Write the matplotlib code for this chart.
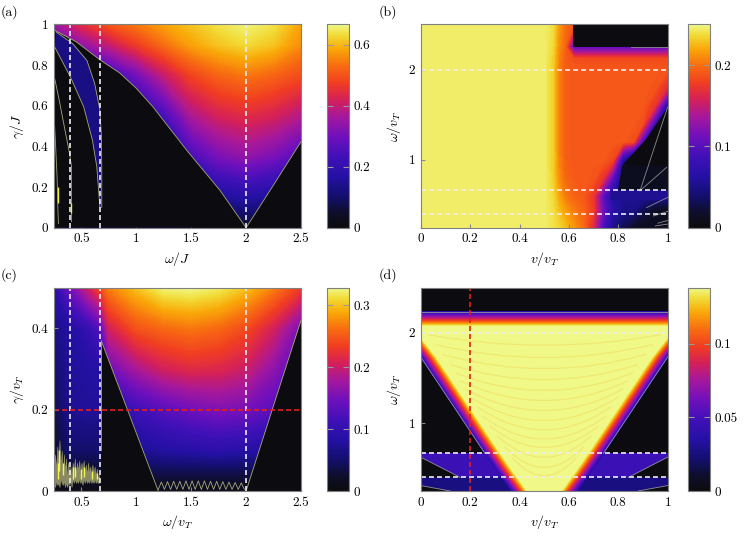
import numpy as np
import matplotlib.pyplot as plt
from matplotlib.colors import LinearSegmentedColormap, Normalize
from matplotlib.cm import ScalarMappable
from matplotlib.path import Path
from matplotlib.patches import PathPatch

plt.rcParams['font.family'] = 'cmr10'
plt.rcParams['mathtext.fontset'] = 'cm'
plt.rcParams['axes.formatter.use_mathtext'] = True
plt.rcParams['font.size'] = 9.5

# ---------------- colour map ----------------
cm_stops = [0.0, 0.07, 0.15, 0.25, 0.35, 0.45, 0.55, 0.63, 0.71, 0.80, 0.88, 0.95, 1.0]
cm_colors = ['#0c0c10', '#0e0e28', '#130f6a', '#2410a4', '#4010b8', '#7010bc',
             '#a8189a', '#d42058', '#f03c22', '#f86e10', '#f9a808', '#f2dc38', '#f0f888']
cmap = LinearSegmentedColormap.from_list('pg', list(zip(cm_stops, cm_colors)))

# ---------------- panel (a): gamma/J vs omega/J ----------------
a_vmax = 0.667
a_gx = [0.25, 0.5, 0.75, 1.0, 1.25, 1.5, 1.75, 2.0, 2.25, 2.5]
a_gy = [0.0, 0.15, 0.35, 0.55, 0.75, 0.9, 1.0]
a_gz = [
    [.12, .12, .12, .12, .12, .10, .05, .04, .05, .06],
    [.15, .15, .15, .15, .15, .15, .15, .17, .15, .12],
    [.15, .15, .15, .15, .17, .24, .31, .34, .31, .25],
    [.15, .15, .15, .16, .24, .37, .42, .44, .42, .38],
    [.20, .20, .22, .30, .40, .48, .52, .54, .52, .49],
    [.30, .34, .40, .47, .53, .58, .61, .63, .61, .56],
    [.35, .44, .50, .54, .58, .61, .64, .66, .64, .58],
]
a_edge_x = [0.25, 0.45, 0.67, 0.85, 1.0, 1.15, 1.46, 1.76, 2.0, 2.25, 2.5]
a_edge_y = [0.972, 0.915, 0.825, 0.76, 0.685, 0.595, 0.38, 0.185, 0.0, 0.21, 0.423]
a_band_x = [0.27, 0.42, 0.55, 0.62, 0.668, 0.682, 0.685, 0.685,
            0.668, 0.64, 0.60, 0.52, 0.40, 0.26]
a_band_y = [0.962, 0.905, 0.822, 0.71, 0.58, 0.45, 0.30, 0.10,
            0.10, 0.30, 0.43, 0.595, 0.74, 0.885]
a_band_val = 0.13
a_line1_x = [0.25, 0.30, 0.35, 0.39, 0.41, 0.41]
a_line1_y = [0.75, 0.62, 0.48, 0.37, 0.30, 0.03]
a_line2_x = [0.25, 0.265, 0.278, 0.285, 0.29]
a_line2_y = [0.56, 0.40, 0.25, 0.10, 0.02]
a_spark_x = [0.284, 0.405]
a_spark_y0 = [0.12, 0.07]
a_spark_y1 = [0.20, 0.12]
a_dash_x = [0.4, 2 / 3, 2.0]

# ---------------- panel (b): omega/v_T vs v/v_T ----------------
b_vmax = 0.25
b_gx = [0.0, 0.5, 0.535, 0.56, 0.585, 0.62, 0.66, 0.70, 0.74, 0.78, 0.82, 0.86, 0.90, 0.95, 1.0]
b_gy = [0.25, 0.45, 0.6, 0.8, 1.0, 1.2, 1.4, 1.6, 1.8, 2.0, 2.12, 2.25, 2.5]
b_gz = [
    [.245, .245, .240, .235, .227, .213, .198, .162, .090, .050, .030, .015, .012, .012, .012],
    [.245, .245, .238, .226, .215, .203, .194, .176, .110, .065, .050, .050, .030, .015, .012],
    [.245, .245, .236, .218, .203, .195, .190, .172, .100, .060, .055, .055, .055, .055, .055],
    [.245, .245, .233, .210, .196, .191, .190, .188, .170, .100, .040, .012, .012, .012, .012],
    [.245, .245, .232, .206, .193, .190, .190, .190, .190, .180, .060, .000, .000, .000, .000],
    [.245, .245, .232, .205, .192, .190, .190, .190, .190, .190, .190, .185, .090, .000, .000],
    [.245, .245, .232, .205, .192, .190, .190, .190, .190, .190, .190, .190, .185, .080, .000],
    [.245, .245, .232, .205, .192, .190, .190, .190, .190, .190, .190, .190, .190, .170, .060],
    [.245, .245, .232, .205, .192, .190, .190, .190, .190, .190, .190, .190, .190, .188, .165],
    [.245, .245, .232, .205, .192, .190, .190, .190, .190, .190, .190, .190, .190, .190, .188],
    [.245, .245, .233, .206, .192, .184, .183, .183, .183, .183, .183, .183, .183, .183, .183],
    [.245, .245, .236, .210, .195, .100, .100, .100, .100, .100, .100, .100, .100, .100, .100],
    [.245, .245, .238, .214, .198, .188, .000, .000, .000, .000, .000, .000, .000, .000, .000],
]
b_black1 = [(0.615, 2.25), (0.615, 2.5), (1.0, 2.5), (1.0, 2.25)]
b_black2 = [(1.0, 1.585), (0.91, 1.22), (0.815, 0.936), (1.0, 0.936)]
b_navy = [(0.815, 0.936), (1.0, 0.936), (1.0, 0.667), (0.80, 0.667)]
b_navy_val = 0.012
b_blue = [(0.77, 0.667), (1.0, 0.667), (1.0, 0.555), (0.765, 0.555)]
b_blue_val = 0.055
b_lines = [
    [(1.0, 1.585), (0.888, 0.659)],
    [(0.888, 0.659), (0.996, 0.918)],
    [(0.915, 0.473), (1.0, 0.585)],
    [(0.942, 0.38), (1.0, 0.43)],
    [(0.96, 0.30), (1.0, 0.33)],
    [(0.95, 0.27), (1.0, 0.29)],
    [(0.85, 2.25), (1.0, 2.25)],
]
b_dash_y = [0.4, 2 / 3, 2.0]

# ---------------- panel (c): gamma/v_T vs omega/v_T ----------------
c_vmax = 0.328
c_gx = [0.25, 0.4, 0.55, 0.67, 0.75, 1.0, 1.25, 1.5, 1.75, 2.0, 2.25, 2.5]
c_gy = [0.0, 0.05, 0.1, 0.2, 0.3, 0.4, 0.5]
c_gz = [
    [.005, .008, .008, .008, .010, .010, .012, .012, .012, .012, .010, .010],
    [.015, .025, .025, .025, .030, .035, .040, .040, .040, .040, .035, .030],
    [.025, .050, .050, .050, .060, .070, .080, .085, .090, .085, .075, .060],
    [.035, .070, .075, .075, .090, .110, .130, .145, .155, .150, .130, .100],
    [.050, .075, .080, .085, .145, .180, .205, .215, .212, .200, .165, .120],
    [.065, .080, .100, .130, .205, .245, .258, .265, .258, .240, .205, .150],
    [.090, .150, .200, .240, .270, .300, .325, .328, .320, .300, .270, .230],
]
c_mask1 = [(0.68, 0.0), (0.68, 0.37), (1.2, 0.0)]
c_mask2 = [(2.0, 0.0), (2.5, 0.42), (2.5, 0.0)]
c_noise_x = [0.25, 0.26, 0.27, 0.28, 0.29, 0.30, 0.31, 0.32, 0.33, 0.34, 0.35, 0.36, 0.37, 0.38,
             0.39, 0.40, 0.41, 0.42, 0.43, 0.44, 0.45, 0.46, 0.47, 0.48, 0.49, 0.50, 0.51, 0.52,
             0.53, 0.54, 0.55, 0.56, 0.57, 0.58, 0.59, 0.60, 0.61, 0.62, 0.63, 0.64, 0.65, 0.66]
c_noise_hi = [0.06, 0.09, 0.05, 0.11, 0.07, 0.125, 0.06, 0.10, 0.04, 0.09, 0.05, 0.08, 0.03, 0.07,
              0.04, 0.06, 0.03, 0.07, 0.05, 0.08, 0.04, 0.07, 0.05, 0.075, 0.04, 0.07, 0.05, 0.075,
              0.045, 0.065, 0.04, 0.07, 0.045, 0.06, 0.04, 0.065, 0.04, 0.06, 0.035, 0.055, 0.03, 0.04]
c_noise_lo = [0.02, 0.01, 0.025, 0.015, 0.02, 0.01, 0.03, 0.02, 0.015, 0.025, 0.01, 0.02, 0.01, 0.02,
              0.015, 0.025, 0.01, 0.03, 0.02, 0.03, 0.02, 0.025, 0.02, 0.03, 0.02, 0.025, 0.015, 0.03,
              0.02, 0.03, 0.02, 0.025, 0.02, 0.03, 0.02, 0.025, 0.02, 0.03, 0.02, 0.025, 0.02, 0.02]
c_spark_x = [0.29, 0.30, 0.33, 0.42, 0.44, 0.50, 0.52, 0.60, 0.64]
c_spark_y0 = [0.03, 0.05, 0.04, 0.03, 0.035, 0.03, 0.035, 0.03, 0.03]
c_spark_y1 = [0.07, 0.10, 0.07, 0.06, 0.06, 0.055, 0.06, 0.05, 0.045]
c_zig_x = [1.200, 1.228, 1.256, 1.284, 1.312, 1.340, 1.368, 1.396, 1.424, 1.452, 1.480, 1.508,
           1.536, 1.564, 1.592, 1.620, 1.648, 1.676, 1.704, 1.732, 1.760, 1.788, 1.816, 1.844,
           1.872, 1.900, 1.928, 1.956, 1.984]
c_zig_y = [0.004, 0.022, 0.004, 0.023, 0.004, 0.024, 0.004, 0.024, 0.004, 0.025, 0.004, 0.025,
           0.004, 0.025, 0.004, 0.025, 0.004, 0.024, 0.004, 0.024, 0.004, 0.023, 0.004, 0.022,
           0.004, 0.021, 0.004, 0.020, 0.004]
c_lines = [
    [(0.68, 0.37), (1.2, 0.0)],
    [(2.0, 0.0), (2.5, 0.42)],
    [(0.675, 0.10), (0.675, 0.37)],
]
c_dash_x = [0.4, 2 / 3, 2.0]
c_red_y = 0.2

# ---------------- panel (d): omega/v_T vs v/v_T ----------------
d_vmax = 0.138
d_band1 = [(0.0, 0.667), (1.0, 0.667), (1.0, 0.4), (0.0, 0.4)]
d_band1_val = 0.046
d_band2 = [(0.0, 0.4), (1.0, 0.4), (1.0, 0.25), (0.0, 0.25)]
d_band2_val = 0.026
d_black = [
    [(0.0, 0.625), (0.16, 0.4), (0.0, 0.4)],
    [(1.0, 0.625), (0.84, 0.4), (1.0, 0.4)],
    [(0.0, 0.31), (0.12, 0.25), (0.0, 0.25)],
    [(1.0, 0.31), (0.88, 0.25), (1.0, 0.25)],
]
d_pts = [
    # outer edge of the bright wedge
    (0.0, 2.233, .035), (0.25, 2.233, .035), (0.5, 2.233, .035), (0.75, 2.233, .035), (1.0, 2.233, .035),
    (0.0, 1.733, .035), (0.13, 1.2, .035), (0.26, 0.667, .035), (0.315, 0.45, .035), (0.368, 0.25, .035),
    (1.0, 1.733, .035), (0.87, 1.2, .035), (0.74, 0.667, .035), (0.685, 0.45, .035), (0.632, 0.25, .035),
    # inner (saturated) edge
    (0.0, 2.07, .138), (0.25, 2.07, .138), (0.5, 2.07, .138), (0.75, 2.07, .138), (1.0, 2.07, .138),
    (0.0, 1.96, .138), (1.0, 1.96, .138),
    (0.065, 1.733, .138), (0.195, 1.2, .138), (0.325, 0.667, .138), (0.38, 0.45, .138), (0.433, 0.25, .138),
    (0.935, 1.733, .138), (0.805, 1.2, .138), (0.675, 0.667, .138), (0.62, 0.45, .138), (0.567, 0.25, .138),
    (0.5, 1.2, .138), (0.5, 0.5, .138), (0.5, 0.25, .138),
]
d_arc_mid = [1.863, 1.727, 1.604, 1.482, 1.363, 1.252, 1.141, 1.03, 0.927, 0.826, 0.733, 0.622, 0.511, 0.419]
d_arc_end_x = [0.03, 0.06, 0.09, 0.12, 0.14, 0.16, 0.18, 0.20, 0.23, 0.25, 0.28, 0.31, 0.34, 0.37]
d_arc_end_y = [1.98, 1.87, 1.76, 1.65, 1.56, 1.47, 1.38, 1.29, 1.18, 1.08, 0.97, 0.86, 0.74, 0.62]
d_lines = [
    [(0.0, 2.233), (1.0, 2.233)],
    [(0.0, 1.733), (0.26, 0.667)],
    [(1.0, 1.733), (0.74, 0.667)],
    [(0.0, 0.625), (0.16, 0.4)],
    [(1.0, 0.625), (0.84, 0.4)],
    [(0.0, 0.31), (0.12, 0.25)],
    [(1.0, 0.31), (0.88, 0.25)],
]
d_dash_y = [0.4, 2 / 3, 2.0]
d_red_x = 0.2

# ---------------- layout ----------------
W, H = 747, 536
fig = plt.figure(figsize=(W / 100, H / 100), dpi=100)


def rect(l, t, w, h):
    return [l / W, 1 - (t + h) / H, w / W, h / H]


ax_a = fig.add_axes(rect(54, 24.3, 247, 203.4))
cb_a = fig.add_axes(rect(327, 24.3, 22, 203.4))
ax_b = fig.add_axes(rect(420.7, 24.3, 247, 203.4))
cb_b = fig.add_axes(rect(688, 24.3, 22, 203.4))
ax_c = fig.add_axes(rect(54, 287.7, 247, 203.3))
cb_c = fig.add_axes(rect(327, 287.7, 22, 203.3))
ax_d = fig.add_axes(rect(420.7, 287.7, 247, 203.3))
cb_d = fig.add_axes(rect(688, 287.7, 22, 203.3))

EDGE = '#a8a87c'
DASH = dict(color='#ececf4', lw=1.2, dashes=(3, 1.8))
RED = dict(color='#e0201c', lw=1.2, dashes=(3, 1.8))


def smooth_grid(ax, gx, gy, gz, vmax):
    # value-space interpolation done by contourf with many levels
    cs = ax.contourf(gx, gy, np.array(gz), levels=np.linspace(0, vmax, 120),
                     cmap=cmap, vmin=0, vmax=vmax, extend='both', zorder=1, antialiased=False)
    return cs


def poly(ax, pts, val, vmax, z=2):
    xs, ys = zip(*pts)
    ax.fill(xs, ys, color=cmap(val / vmax), lw=0, zorder=z)


def seg(ax, pts, color=EDGE, lw=0.6, z=4):
    xs, ys = zip(*pts)
    ax.plot(xs, ys, color=color, lw=lw, zorder=z)


def style(ax, xlim, ylim, xt, xtl, yt, ytl, xlabel, ylabel, tag, tag_x):
    ax.set_xlim(*xlim)
    ax.set_ylim(*ylim)
    ax.set_facecolor(cmap(0.0))
    ax.set_xticks(xt)
    ax.set_xticklabels(xtl)
    ax.set_yticks(yt)
    ax.set_yticklabels(ytl)
    ax.tick_params(direction='in', length=3, color='#888888', pad=4, labelsize=9.5)
    ax.set_xlabel(xlabel, fontsize=10, labelpad=3)
    ax.set_ylabel(ylabel, fontsize=10, labelpad=4)
    for s in ax.spines.values():
        s.set_color('#808080')
        s.set_linewidth(0.8)
        s.set_zorder(10)
    ax.text(tag_x, 1.06, tag, transform=ax.transAxes, fontsize=10, ha='left', va='center')


def colorbar(cax, vmax, ticks, labels):
    cb = fig.colorbar(ScalarMappable(norm=Normalize(0, vmax), cmap=cmap), cax=cax)
    cb.set_ticks(ticks)
    cb.set_ticklabels(labels)
    cb.outline.set_edgecolor('#808080')
    cb.outline.set_linewidth(0.8)
    cax.tick_params(direction='in', length=4, color='#9a9a9a', left=True, right=True,
                    labelsize=9.5, pad=3)


# ---- (a)
smooth_grid(ax_a, a_gx, a_gy, a_gz, a_vmax)
mask_x = a_edge_x + [2.5, 0.25]
mask_y = a_edge_y + [0.0, 0.0]
ax_a.fill(mask_x, mask_y, color=cmap(0.0), lw=0, zorder=2)
ax_a.fill(a_band_x, a_band_y, color=cmap(a_band_val / a_vmax), lw=0, zorder=3)
ax_a.plot(a_edge_x, a_edge_y, color=EDGE, lw=0.6, zorder=4)
ax_a.plot(a_band_x[:8], a_band_y[:8], color=EDGE, lw=0.6, zorder=4)
ax_a.plot(a_band_x[8:], a_band_y[8:], color=EDGE, lw=0.6, zorder=4)
ax_a.plot(a_line1_x, a_line1_y, color=EDGE, lw=0.6, zorder=4)
ax_a.plot(a_line2_x, a_line2_y, color=EDGE, lw=0.6, zorder=4)
ax_a.vlines(a_spark_x, a_spark_y0, a_spark_y1, color='#f0f040', lw=1.0, zorder=4)
for x in a_dash_x:
    ax_a.axvline(x, zorder=6, **DASH)
style(ax_a, (0.25, 2.5), (0, 1), [0.5, 1, 1.5, 2, 2.5], ['0.5', '1', '1.5', '2', '2.5'],
      [0, 0.2, 0.4, 0.6, 0.8, 1], ['0', '0.2', '0.4', '0.6', '0.8', '1'],
      r'$\omega/J$', r'$\gamma/J$', '(a)', -0.215)
colorbar(cb_a, a_vmax, [0, 0.2, 0.4, 0.6], ['0', '0.2', '0.4', '0.6'])

# ---- (b)
smooth_grid(ax_b, b_gx, b_gy, b_gz, b_vmax)
poly(ax_b, b_black1, 0.0, b_vmax)
poly(ax_b, b_black2, 0.0, b_vmax)
poly(ax_b, b_navy, b_navy_val, b_vmax)
poly(ax_b, b_blue, b_blue_val, b_vmax)
for ln in b_lines:
    seg(ax_b, ln, color='#8c8c8c')
for y in b_dash_y:
    ax_b.axhline(y, zorder=6, **DASH)
style(ax_b, (0, 1), (0.25, 2.5), [0, 0.2, 0.4, 0.6, 0.8, 1], ['0', '0.2', '0.4', '0.6', '0.8', '1'],
      [1, 2], ['1', '2'], r'$v/v_T$', r'$\omega/v_T$', '(b)', -0.172)
colorbar(cb_b, b_vmax, [0, 0.1, 0.2], ['0', '0.1', '0.2'])

# ---- (c)
smooth_grid(ax_c, c_gx, c_gy, c_gz, c_vmax)
poly(ax_c, c_mask1, 0.0, c_vmax)
poly(ax_c, c_mask2, 0.0, c_vmax)
ax_c.fill_between(c_noise_x, c_noise_lo, c_noise_hi, color='#a0a070', alpha=0.85, lw=0.4, zorder=3)
ax_c.vlines(c_spark_x, c_spark_y0, c_spark_y1, color='#f4f450', lw=1.0, zorder=4)
ax_c.plot(c_zig_x, c_zig_y, color=EDGE, lw=0.6, zorder=4)
for ln in c_lines:
    seg(ax_c, ln)
for x in c_dash_x:
    ax_c.axvline(x, zorder=6, **DASH)
ax_c.axhline(c_red_y, zorder=6, **RED)
style(ax_c, (0.25, 2.5), (0, 0.5), [0.5, 1, 1.5, 2, 2.5], ['0.5', '1', '1.5', '2', '2.5'],
      [0, 0.2, 0.4], ['0', '0.2', '0.4'], r'$\omega/v_T$', r'$\gamma/v_T$', '(c)', -0.215)
colorbar(cb_c, c_vmax, [0, 0.1, 0.2, 0.3], ['0', '0.1', '0.2', '0.3'])

# ---- (d)
poly(ax_d, d_band1, d_band1_val, d_vmax)
poly(ax_d, d_band2, d_band2_val, d_vmax)
for tri in d_black:
    poly(ax_d, tri, 0.0, d_vmax)
dx, dy, dz = zip(*d_pts)
ax_d.tricontourf(dx, dy, dz, levels=np.linspace(0, d_vmax, 120), cmap=cmap, vmin=0, vmax=d_vmax,
                 extend='both', zorder=3, antialiased=False)
for c, xe, ye in zip(d_arc_mid, d_arc_end_x, d_arc_end_y):
    path = Path([(xe, ye), (0.5, 2 * c - ye), (1 - xe, ye)], [Path.MOVETO, Path.CURVE3, Path.CURVE3])
    ax_d.add_patch(PathPatch(path, fill=False, edgecolor='#f0b020', lw=0.9, alpha=0.22, zorder=4))
for ln in d_lines:
    seg(ax_d, ln, color='#9090a0')
for y in d_dash_y:
    ax_d.axhline(y, zorder=6, **DASH)
ax_d.axvline(d_red_x, zorder=6, **RED)
style(ax_d, (0, 1), (0.25, 2.5), [0, 0.2, 0.4, 0.6, 0.8, 1], ['0', '0.2', '0.4', '0.6', '0.8', '1'],
      [1, 2], ['1', '2'], r'$v/v_T$', r'$\omega/v_T$', '(d)', -0.172)
colorbar(cb_d, d_vmax, [0, 0.05, 0.1], ['0', '0.05', '0.1'])

fig.savefig('out.png', dpi=100)
